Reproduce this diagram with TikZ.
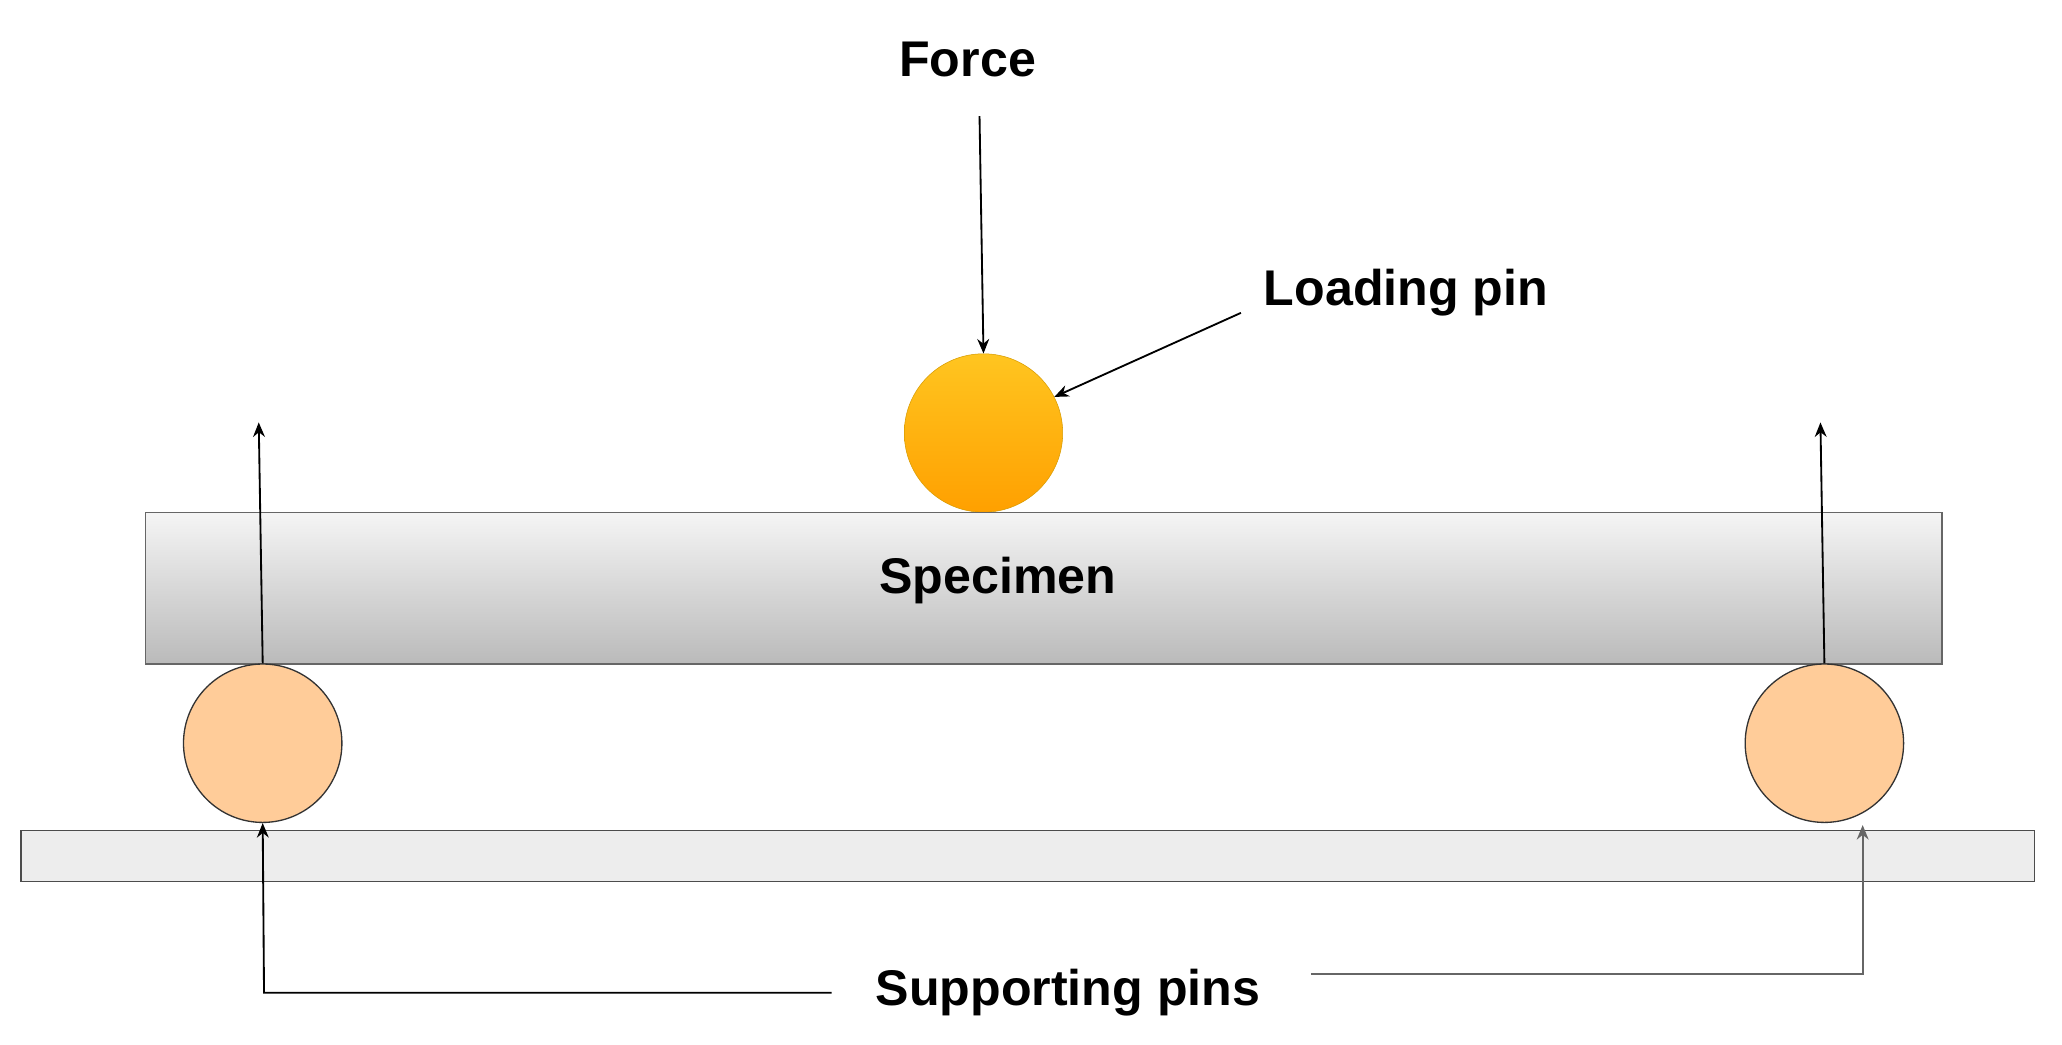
\documentclass[tikz,border=0pt]{standalone}
\usepackage{fontspec}
\setmainfont{Liberation Sans}
\usetikzlibrary{arrows.meta}
\begin{document}
\begin{tikzpicture}[x=1pt,y=-1pt,
  lbl/.style={font=\bfseries\fontsize{38}{44}\selectfont,inner sep=2pt},
  arr/.style={-{Stealth[length=11pt,width=9pt]},line width=1.4pt},
  supp/.style={circle,draw=black!80,line width=1pt,fill={rgb,255:red,255;green,204;blue,153},minimum size=120pt,inner sep=0pt}]
\useasboundingbox (0,0) rectangle (1562,791);
\node[lbl] (force) at (733,45) {Force};
\node[circle,minimum size=120pt,inner sep=0pt,draw={rgb,255:red,215;green,155;blue,0},top color={rgb,255:red,255;green,197;blue,32},bottom color={rgb,255:red,255;green,160;blue,0}] (lp) at (745,328) {};
\node[lbl] (lptxt) at (1065,222) {Loading pin};
\node[draw=black!60,line width=1pt,top color=black!4,bottom color=black!27,minimum width=1361pt,minimum height=115pt,inner sep=0pt] (spec) at (790.5,445.5) {};
\node[lbl] at (756,440) {Specimen};
\node[draw=black!70,line width=1pt,fill=black!7,minimum width=1525pt,minimum height=39pt,inner sep=0pt] (base) at (778.5,648.5) {};
\node[supp] (sl) at (199,563) {};
\node[supp] (sr) at (1382,563) {};
\node[lbl] (sptxt) at (809,752) {Supporting pins};
\coordinate (fs) at (742,88);
\draw[arr] (fs) -- (lp.north);
\coordinate (lps) at (940,237);
\draw[arr] (lps) -- (lp.27);
\coordinate (ul) at (196,320);
\coordinate (ur) at (1379,320);
\draw[arr] (sl.north) -- (ul);
\draw[arr] (sr.north) -- (ur);
\coordinate (ls) at (630,752);
\draw[arr] (ls) -- (200,752) -- (sl.south);
\coordinate (rc) at (1411,738);
\coordinate (re) at (1411,625);
\draw[arr,draw=black!60] (993,738) -- (rc) -- (re);
\end{tikzpicture}
\end{document}
